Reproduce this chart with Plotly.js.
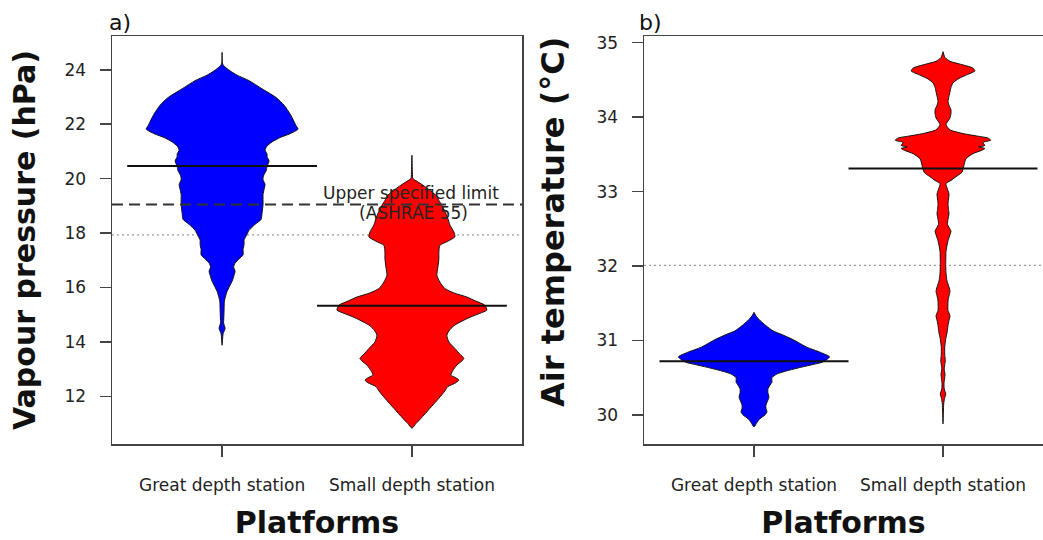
<!DOCTYPE html>
<html>
<head>
<meta charset="utf-8">
<script src="https://cdn.plot.ly/plotly-3.0.1.min.js"></script>
<style>html,body{margin:0;padding:0;background:#fff;overflow:hidden}</style>
</head>
<body>
<div id="chart" style="width:1043px;height:540px"></div>
<script>
// ---------- DATA ----------
const platforms = ["Great depth station", "Small depth station"];

// Panel a: vapour pressure (hPa) bean density profiles (level, relative half-width)
const vpGreatLevels = [13.88,14.3,14.5,14.7,14.88,15.2,15.5,15.86,16.23,16.45,16.6,16.75,16.9,17.05,17.2,17.4,17.58,17.75,17.89,18.1,18.32,18.5,18.74,19.05,19.42,19.6,19.79,19.95,20.03,20.15,20.28,20.45,20.65,20.8,20.9,21.05,21.2,21.35,21.51,21.65,21.82,21.95,22.1,22.38,22.7,22.98,23.3,23.6,23.8,23.96,24.1,24.21,24.64];
const vpGreatDens   = [0,1,3,1.5,1.7,2,2.3,5,10,12,13,11.5,13,17,21,21,22,22,24,27,33,39,40,41,41,42,43,41,41,42,44,45,47,45,45,43,45,50,58,68,76,74,72,68,62,54,40,27,15,8,3,0.5,0];
const vpSmallLevels = [10.83,11.0,11.19,11.56,11.93,12.2,12.36,12.5,12.6,12.7,12.78,12.95,13.15,13.3,13.4,13.55,13.76,14.0,14.25,14.45,14.62,14.8,14.92,15.05,15.17,15.35,15.5,15.65,15.8,15.96,16.2,16.45,16.75,17.06,17.3,17.55,17.7,17.86,18.04,18.3,18.53,18.8,19.02,19.2,19.39,19.6,19.76,19.9,20.0,20.2,20.86];
const vpSmallDens   = [0,4,9,18,27,33,36,44,47,43,39,41,45,50,52,48,43,37,35,38,43,52,59,68,75,73,64,55,42,33,28,25,26,27,27,28,36,43,42,38,36,33,30,27,24,17,11,5,1,0.5,0];
const vpMedians = [20.46, 15.33];
const vpLimit = 19.05;        // Upper specified limit (ASHRAE 55)
const vpOverall = 17.93;      // overall mean (dotted)

// Panel b: air temperature (°C)
const taGreatLevels = [29.84,29.9,29.95,30.0,30.04,30.09,30.13,30.2,30.24,30.3,30.35,30.4,30.44,30.5,30.55,30.6,30.64,30.68,30.71,30.78,30.84,30.91,30.97,31.02,31.08,31.13,31.2,31.27,31.33,31.38];
const taGreatDens   = [0,3,6,11,13,12,12,14,15,14,14,16,18,18,23,35,47,60,69,76,67,53,45,38,28,19,12,6,2,0];
const taSmallLevels = [29.88,30.0,30.1,30.15,30.22,30.28,30.35,30.42,30.48,30.55,30.6,30.64,30.68,30.73,30.8,30.91,31.04,31.1,31.2,31.27,31.33,31.37,31.4,31.53,31.6,31.66,31.72,31.8,31.9,32.02,32.1,32.2,32.34,32.42,32.47,32.52,32.56,32.63,32.7,32.76,32.83,32.9,32.97,33.05,33.11,33.15,33.2,33.26,33.35,33.44,33.51,33.55,33.58,33.6,33.62,33.66,33.69,33.72,33.74,33.78,33.83,33.9,33.99,34.05,34.1,34.16,34.21,34.28,34.34,34.4,34.46,34.52,34.57,34.62,34.66,34.68,34.72,34.75,34.8,34.88];
const taSmallDens   = [0,0.3,0.5,0.7,1.5,2.7,1.2,1,1.5,2,1.3,1.3,1.8,2.3,1.8,1.7,3,4,5,6,7,6,5,5,6,7,6,4,3,2.7,2.8,3,5,7,8,6,4.5,5,6,5.5,5,5.5,6,4,3,8,13,19,21,23,30,38,42,36,42,40,48,45,37,20,7,3,7,8,8,6,5,6,7,8,10,16,24,32,30,26,15,7,2,0];
const taMedians = [30.72, 33.31];
const taOverall = 32.01;

const yTicksA = [12,14,16,18,20,22,24];
const yTicksB = [30,31,32,33,34,35];

// ---------- BUILD ----------
const FONT = "DejaVu Sans";
const HALF_MAX = 0.4; // bean max half-width in category units

function bean(levels, dens, center, scale, color, xa, ya) {
  const xs = [], ys = [];
  for (let i = 0; i < levels.length; i++) { xs.push(center + dens[i] * scale); ys.push(levels[i]); }
  for (let i = levels.length - 1; i >= 0; i--) { xs.push(center - dens[i] * scale); ys.push(levels[i]); }
  return {type: "scatter", mode: "lines", x: xs, y: ys, xaxis: xa, yaxis: ya,
    fill: "toself", fillcolor: color,
    line: {color: "#111", width: 1, shape: "spline", smoothing: 0.6},
    hoverinfo: "skip", showlegend: false};
}
const scaleA = HALF_MAX / Math.max(...vpGreatDens, ...vpSmallDens);
const scaleB = HALF_MAX / Math.max(...taGreatDens, ...taSmallDens);

const traces = [
  bean(vpGreatLevels, vpGreatDens, 1, scaleA, "#0000FF", "x", "y"),
  bean(vpSmallLevels, vpSmallDens, 2, scaleA, "#FF0000", "x", "y"),
  bean(taGreatLevels, taGreatDens, 1, scaleB, "#0000FF", "x2", "y2"),
  bean(taSmallLevels, taSmallDens, 2, scaleB, "#FF0000", "x2", "y2")
];

const shapes = [];
// overall mean lines (dotted, behind beans)
shapes.push({type: "line", xref: "x domain", yref: "y", x0: 0, x1: 1, y0: vpOverall, y1: vpOverall, layer: "below",
  line: {color: "#9a9a9a", width: 1.2, dash: "2px,3px"}});
shapes.push({type: "line", xref: "x2 domain", yref: "y2", x0: 0, x1: 1, y0: taOverall, y1: taOverall, layer: "below",
  line: {color: "#9a9a9a", width: 1.2, dash: "2px,3px"}});
// ASHRAE limit (dashed)
shapes.push({type: "line", xref: "x domain", yref: "y", x0: 0, x1: 1, y0: vpLimit, y1: vpLimit, layer: "above",
  line: {color: "#333", width: 2, dash: "11px,6px"}});
// bean medians
vpMedians.forEach((m, i) => shapes.push({type: "line", xref: "x", yref: "y", x0: i + 0.5, x1: i + 1.5, y0: m, y1: m,
  layer: "above", line: {color: "#111", width: 2}}));
taMedians.forEach((m, i) => shapes.push({type: "line", xref: "x2", yref: "y2", x0: i + 0.5, x1: i + 1.5, y0: m, y1: m,
  layer: "above", line: {color: "#111", width: 2}}));

const axisCommon = {showgrid: false, zeroline: false, showline: true, linecolor: "#444", linewidth: 1.5,
  ticks: "outside", ticklen: 11, tickwidth: 1.5, tickcolor: "#444",
  tickfont: {family: FONT, size: 17, color: "#222"}, fixedrange: true};

const W = 1043, H = 540;
const layout = {
  width: W, height: H,
  margin: {l: 0, r: 0, t: 0, b: 0, pad: 0},
  paper_bgcolor: "#fff", plot_bgcolor: "#fff",
  showlegend: false,
  xaxis: Object.assign({}, axisCommon, {domain: [112 / W, 522 / W], range: [0.42, 2.58], mirror: true,
    tickvals: [1, 2], ticktext: platforms, ticklabelstandoff: 14, anchor: "y",
    title: {text: "<b>Platforms</b>", font: {family: FONT, size: 30, color: "#111"}, standoff: 21}}),
  yaxis: Object.assign({}, axisCommon, {domain: [96 / H, 504 / H], range: [10.25, 25.24], mirror: true,
    tickvals: yTicksA, ticklabelstandoff: 10, anchor: "x",
    title: {text: "<b>Vapour pressure (hPa)</b>", font: {family: FONT, size: 30, color: "#111"}, standoff: 20}}),
  xaxis2: Object.assign({}, axisCommon, {domain: [644 / W, 1], range: [0.418, 2.529], mirror: true,
    tickvals: [1, 2], ticktext: platforms, ticklabelstandoff: 14, anchor: "y2",
    title: {text: "<b>Platforms</b>", font: {family: FONT, size: 30, color: "#111"}, standoff: 21}}),
  yaxis2: Object.assign({}, axisCommon, {domain: [96 / H, 504 / H], range: [29.61, 35.09], mirror: false,
    tickvals: yTicksB, ticklabelstandoff: 10, anchor: "x2"}),
  shapes: shapes,
  annotations: [
    {text: "<b>Air temperature (°C)</b>", xref: "paper", yref: "paper", x: 553 / W, y: 1 - 222 / H,
      xanchor: "center", yanchor: "middle", textangle: -90, showarrow: false,
      font: {family: FONT, size: 32, color: "#111"}},
    {text: "a)", xref: "paper", yref: "paper", x: 107 / W, y: 1 - 22 / H, xanchor: "left", yanchor: "middle",
      showarrow: false, font: {family: FONT, size: 22, color: "#111"}},
    {text: "b)", xref: "paper", yref: "paper", x: 637 / W, y: 1 - 22 / H, xanchor: "left", yanchor: "middle",
      showarrow: false, font: {family: FONT, size: 22, color: "#111"}},
    {text: "Upper specified limit", xref: "x", yref: "y", x: 1.995, y: vpLimit + 0.42, xanchor: "center", yanchor: "middle",
      showarrow: false, font: {family: FONT, size: 17, color: "#222"}},
    {text: "(ASHRAE 55)", xref: "x", yref: "y", x: 2.01, y: vpLimit - 0.32, xanchor: "center", yanchor: "middle",
      showarrow: false, font: {family: FONT, size: 17, color: "#222"}}
  ]
};

Plotly.newPlot("chart", traces, layout, {displayModeBar: false, staticPlot: true});
</script>
</body>
</html>
